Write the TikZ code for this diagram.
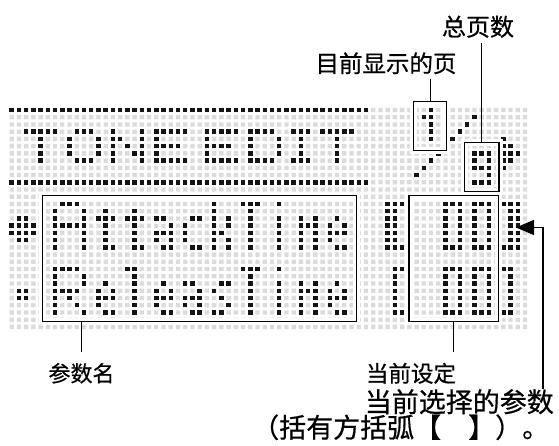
\documentclass[tikz,border=0pt]{standalone}
\usepackage{fontspec}
\newfontfamily\cjk[FakeBold=0.6]{Noto Sans CJK SC}
\usetikzlibrary{arrows.meta}

\begin{document}
\begin{tikzpicture}[
    x=1pt, y=-1pt,
    dotoff/.style={fill=black!14},
    doton/.style={fill=black!92},
    lcdbox/.style={draw, line width=1.3pt, inner sep=0pt, outer sep=0pt, preaction={draw=white, line width=7pt}},
    callout/.style={font=\cjk\fontsize{#1}{#1}\selectfont, inner sep=0pt},
    leader/.style={line width=1.2pt},
    pointer/.style={line width=1.2pt, -{Triangle[length=18pt, width=15pt]}}
]
\useasboundingbox (0,0) rectangle (559,446);

% LCD dot matrix (72 x 31 dots)
\begin{scope}[shift={(11.7,110)}, x=7.23pt, y=-7.23pt]
\fill[dotoff] \foreach \c in {0,...,71} { \foreach \r in {0,...,30} { (\c-.3,\r-.3) rectangle ++(.6,.6) } };

% Lit dots, row by row
\foreach \r/\cols in {
    0/{0,...,49,58},
    1/{57,58,64},
    2/{58,63},
    3/{2,3,4,5,6,9,10,11,14,18,20,21,22,23,24,27,28,29,30,31,33,34,35,36,39,40,41,43,44,45,46,47,58,62},
    4/{4,8,12,14,15,18,20,27,33,37,40,45,58,61,68},
    5/{4,8,12,14,16,18,20,21,22,23,27,28,29,30,33,37,40,45,68,69},
    6/{4,8,12,14,17,18,20,27,33,37,40,45,59,64,65,66,68,69,70},
    7/{4,9,10,11,14,18,20,21,22,23,24,27,28,29,30,31,33,34,35,36,39,40,41,45,58,64,66,68,69},
    8/{57,64,65,66,68},
    9/{56,66},
    10/{0,...,49,64,65,66},
    13/{7,8,9,28,32,33,34,37,52,53,54,60,61,62,64,65,66,68,69,70},
    14/{6,10,13,17,28,33,52,53,60,62,64,66,69,70},
    15/{1,2,6,10,12,13,14,16,17,18,20,21,25,26,28,30,33,37,40,42,45,52,53,60,62,64,66,69,70},
    16/{0,1,2,3,6,7,8,9,10,13,17,22,24,28,30,33,37,40,41,42,44,46,52,53,60,62,64,66,69,70},
    17/{0,1,2,3,6,10,13,17,20,21,22,24,28,29,33,37,40,42,44,45,46,52,53,60,62,64,66,69,70},
    18/{1,2,6,10,13,17,20,22,24,28,30,33,37,40,42,44,52,53,60,62,64,66,69,70},
    19/{6,10,13,14,17,18,21,22,25,26,28,30,33,37,40,42,45,46,52,53,54,60,61,62,64,65,66,68,69,70},
    22/{6,7,8,9,16,17,32,33,34,37,53,54,60,61,62,64,65,66,68,69},
    23/{6,10,17,33,53,60,62,64,66,69},
    24/{6,10,13,17,21,24,25,29,30,33,37,40,42,45,53,60,62,64,66,69},
    25/{1,2,6,7,8,9,12,14,17,20,22,26,28,33,37,40,41,42,44,46,53,60,62,64,66,69},
    26/{1,2,6,8,12,13,14,17,20,21,22,24,25,26,29,33,37,40,42,44,45,46,53,60,62,64,66,69},
    27/{6,9,12,17,20,24,26,30,33,37,40,42,44,53,60,62,64,66,69},
    28/{6,10,13,14,17,21,22,25,26,28,29,33,37,40,42,45,46,53,54,60,61,62,64,65,66,68,69}} {
    \foreach \c in \cols {
        \fill[doton] (\c-.31,\r-.31) rectangle ++(.62,.62);
    }
}
\end{scope}

% Frames on the display
\node[lcdbox, minimum width=314pt, minimum height=125.8pt] (boxParam) at (199.7,258.6) {};
\node[lcdbox, minimum width=89.3pt, minimum height=126pt] (boxValue) at (453.65,258.7) {};
\node[lcdbox, minimum width=33pt, minimum height=49pt] (boxPage) at (430.2,126.2) {};
\node[lcdbox, minimum width=34.7pt, minimum height=49pt] (boxTotal) at (481.65,167.2) {};

% Labels
\node[callout=24] (lblTotal) at (478,26.7) {总页数};
\node[callout=23.5] (lblPage) at (386,63.3) {目前显示的页};
\node[callout=22] (lblParam) at (81.5,373.3) {参数名};
\node[callout=22.5] (lblValue) at (411,373.3) {当前设定};
\node[callout=27, anchor=east] (lblSel) at (554,401.7) {当前选择的参数};
\node[callout=27, anchor=west] (lblNote) at (252,427.3) {（括有方括弧【　】）。};

% Leader lines
\draw[leader, shorten >=4.6pt] (boxTotal.north) -- (boxTotal.north |- lblTotal.south);
\draw[leader, shorten >=5pt] (boxPage.north) -- (boxPage.north |- lblPage.south);
\draw[leader, shorten <=10.6pt] (lblParam.north) -- (lblParam.north |- boxParam.south);
\draw[leader, shorten >=10.4pt] (boxValue.south) -- (boxValue.south |- lblValue.north);

% Pointer to the selected parameter
\coordinate (selBend) at (543,227.5);
\coordinate (selTip) at (516,227.5);
\draw[pointer] (selBend |- lblSel.north) -- (selBend) -- (selTip);

\end{tikzpicture}
\end{document}
